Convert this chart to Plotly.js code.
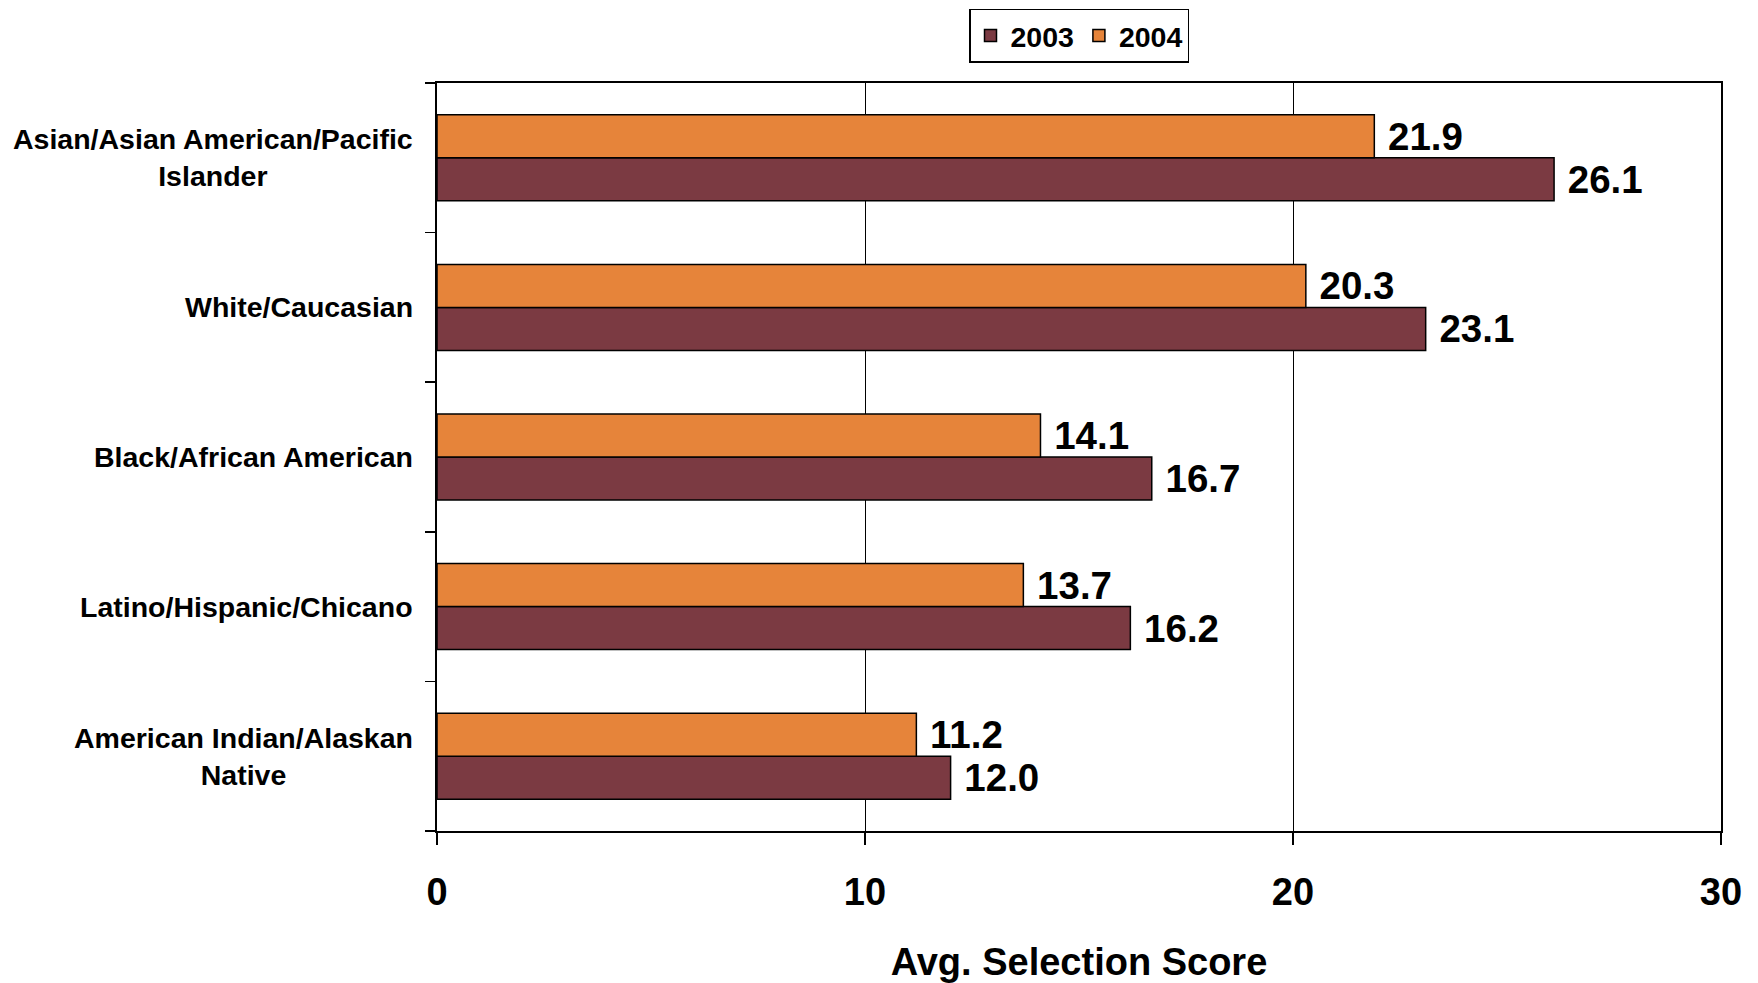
<!DOCTYPE html>
<html>
<head>
<meta charset="utf-8">
<script src="https://cdn.plot.ly/plotly-3.0.1.min.js"></script>
<style>html,body{margin:0;padding:0;background:#fff;}#chart{width:1758px;height:983px;}</style>
</head>
<body>
<div id="chart"></div>
<script>
// Categories listed top to bottom as in the chart
const categories = [
  "Asian/Asian American/Pacific<br>Islander",
  "White/Caucasian",
  "Black/African American",
  "Latino/Hispanic/Chicano",
  "American Indian/Alaskan<br>Native"
];
const series2003 = [26.1, 23.1, 16.7, 16.2, 12.0];
const series2004 = [21.9, 20.3, 14.1, 13.7, 11.2];
const seriesNames = ["2003", "2004"];
const xTicks = [0, 10, 20, 30];
const xTitle = "Avg. Selection Score";

const FONT = "Liberation Sans, Arial, sans-serif";
const brown = "#7B3A42";
const orange = "#E6843A";

const labelFont = {family: FONT, size: 38.5, color: "#000", weight: 700};

const traces = [
  {
    type: "bar", orientation: "h", name: seriesNames[0],
    y: categories, x: series2003,
    marker: {color: brown, line: {color: "#000", width: 1.5}},
    text: series2003.map(v => "\u00a0" + v.toFixed(1)),
    textposition: "outside", textfont: labelFont,
    constraintext: "none", cliponaxis: false, hoverinfo: "x"
  },
  {
    type: "bar", orientation: "h", name: seriesNames[1],
    y: categories, x: series2004,
    marker: {color: orange, line: {color: "#000", width: 1.5}},
    text: series2004.map(v => "\u00a0" + v.toFixed(1)),
    textposition: "outside", textfont: labelFont,
    constraintext: "none", cliponaxis: false, hoverinfo: "x"
  }
];

const annotations = categories.map(c => ({
  xref: "paper", yref: "y", x: 0, y: c,
  xanchor: "right", yanchor: "middle", xshift: -22,
  text: c, showarrow: false, align: "center",
  font: {family: FONT, size: 28.5, color: "#000", weight: 700}
}));

const layout = {
  width: 1758, height: 983,
  margin: {l: 437, r: 37, t: 83, b: 152, autoexpand: false},
  paper_bgcolor: "#fff", plot_bgcolor: "#fff",
  font: {family: FONT, color: "#000", weight: 700},
  barmode: "group", bargap: 0.425, bargroupgap: 0,
  showlegend: true,
  legend: {
    orientation: "h", x: 0.5, xanchor: "center", y: 1.099, yanchor: "top",
    font: {family: FONT, size: 28.5, color: "#000", weight: 700},
    bordercolor: "#000", borderwidth: 1.5, bgcolor: "#fff",
    traceorder: "normal"
  },
  xaxis: {
    range: [0, 30], tickvals: xTicks, ticktext: xTicks.map(String),
    showgrid: true, gridcolor: "#000", gridwidth: 1, zeroline: false,
    showline: true, linecolor: "#000", linewidth: 2, mirror: true,
    ticks: "outside", ticklen: 12, tickwidth: 1.5, tickcolor: "#000",
    ticklabelstandoff: 14,
    tickfont: {family: FONT, size: 38, color: "#000", weight: 700},
    title: {text: xTitle, standoff: 40, font: {family: FONT, size: 38, color: "#000", weight: 700}},
    fixedrange: true
  },
  yaxis: {
    type: "category", categoryorder: "array",
    categoryarray: categories.slice().reverse(),
    showticklabels: false, showgrid: false, zeroline: false,
    showline: true, linecolor: "#000", linewidth: 2, mirror: true,
    ticks: "outside", tickson: "boundaries", ticklen: 10, tickwidth: 1.5, tickcolor: "#000",
    fixedrange: true
  },
  annotations: annotations
};

Plotly.newPlot("chart", traces, layout, {displayModeBar: false, staticPlot: true});
</script>
</body>
</html>
